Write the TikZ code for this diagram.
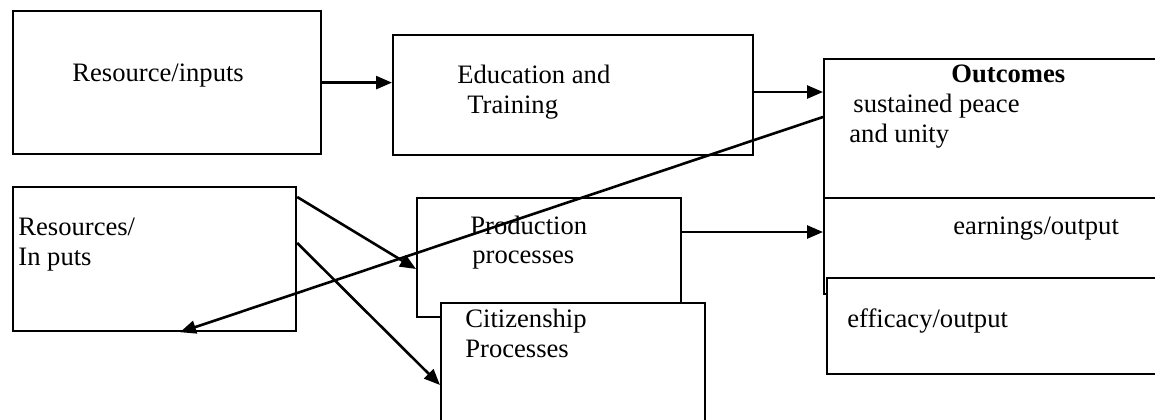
\documentclass[tikz,border=0pt]{standalone}
\usepackage{fontspec}
\setmainfont{Liberation Serif}
\usetikzlibrary{arrows.meta,calc}
\tikzset{
  box/.style={draw, line width=1.1pt, rectangle, inner sep=0pt, anchor=north west, fill=white},
  lbl/.style={anchor=base west, inner sep=0pt, font=\fontsize{13.3}{15}\selectfont},
  conn/.style={line width=1.3pt, -{Triangle[length=8pt,width=6.5pt]}}
}
\begin{document}
\begin{tikzpicture}[x=0.5pt,y=-0.5pt]
\useasboundingbox (0,0) rectangle (1155,419);
\clip (0,0) rectangle (1155,419);
% boxes
\node[box, minimum width=154pt, minimum height=71.5pt] (res1) at (12,10) {};
\node[box, minimum width=180pt, minimum height=60pt] (edu) at (392,34) {};
\node[box, minimum width=180pt, minimum height=69.5pt] (out) at (823,58) {};
\node[box, minimum width=180pt, minimum height=48pt] (earn) at (823,197) {};
\node[box, minimum width=180pt, minimum height=48pt] (eff) at (826,277) {};
\node[box, minimum width=141.5pt, minimum height=72pt] (res2) at (12,186) {};
\node[box, minimum width=132pt, minimum height=59.5pt, fill=none] (prod) at (416,197) {};
% connector end points
\coordinate (e1) at ($(edu.north east)+(0,58)$);
\coordinate (p1) at ($(prod.north east)+(0,35)$);
\coordinate (r1) at ($(res2.north east)+(0,11)$);
\coordinate (r2) at ($(res2.north east)+(0,57)$);
\coordinate (pin) at ($(prod.north west)+(0,72)$);
\coordinate (o1) at ($(out.north west)+(0,59)$);
\coordinate (rin) at ($(res2.south west)+(168,0)$);
% connectors
\draw[conn] (res1.east) -- (res1.east -| edu.west);
\draw[conn] (e1) -- (e1 -| out.west);
\draw[conn] (p1) -- (p1 -| earn.west);
\draw[conn] (r1) -- (pin);
\draw[conn] (o1) -- (rin);
\node[box, minimum width=132pt, minimum height=69pt] (cit) at (440,302) {};
\coordinate (cin) at ($(cit.north west)+(0,83)$);
\draw[conn] (r2) -- (cin);
% texts
\node[lbl] (t1) at (72,81) {Resource/inputs};
\node[lbl] (t2) at (457,83) {Education and};
\node[lbl] (t3) at (467,113) {Training};
\node[lbl, font=\fontsize{13.3}{15}\selectfont\bfseries] (t4) at (951,82) {Outcomes};
\node[lbl] (t5) at (853,112) {sustained peace};
\node[lbl] (t6) at (849,142) {and unity};
\node[lbl] (t7) at (953,234) {earnings/output};
\node[lbl] (t8) at (847,327) {efficacy/output};
\node[lbl] (t9) at (18,235) {Resources/};
\node[lbl] (t10) at (18,265) {In puts};
\node[lbl] (t11) at (470,234) {Production};
\node[lbl] (t12) at (472,263) {processes};
\node[lbl] (t13) at (465,327) {Citizenship};
\node[lbl] (t14) at (465,357) {Processes};
\end{tikzpicture}
\end{document}
